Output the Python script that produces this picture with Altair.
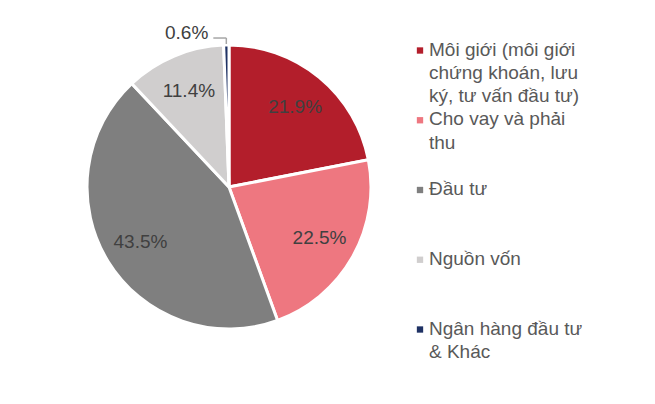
import math
import pandas as pd
import altair as alt

# Revenue structure (share of total, %)
categories = [
    "Môi giới (môi giới chứng khoán, lưu ký, tư vấn đầu tư)",
    "Cho vay và phải thu",
    "Đầu tư",
    "Nguồn vốn",
    "Ngân hàng đầu tư & Khác",
]
legend_text = [
    "Môi giới (môi giới\nchứng khoán, lưu\nký, tư vấn đầu tư)",
    "Cho vay và phải\nthu",
    "Đầu tư",
    "Nguồn vốn",
    "Ngân hàng đầu tư\n& Khác",
]
shares = [21.9, 22.5, 43.5, 11.4, 0.6]
colors = ["#B31E2B", "#EE7780", "#7F7F7F", "#D0CECE", "#1F3264"]

FONT = "Liberation Sans"
CX, CY, R = 221, 179, 142

df = pd.DataFrame({
    "category": categories,
    "legend": legend_text,
    "share": shares,
    "idx": range(len(categories)),
})
df["label"] = [f"{s}%" if s >= 1 else "" for s in shares]

color_scale = alt.Scale(domain=categories, range=colors)

base = alt.Chart(df).encode(
    theta=alt.Theta("share:Q", stack=True),
    order=alt.Order("idx:Q"),
)

# Pie slices with white separators
pie = base.mark_arc(outerRadius=R, stroke="white", strokeWidth=3).encode(
    color=alt.Color("category:N", scale=color_scale, legend=None),
    x=alt.value(CX),
    y=alt.value(CY),
)

# Percentage labels inside the slices
labels = base.mark_text(font=FONT, fontSize=19, color="#404040", radius=104).encode(
    text="label:N",
    x=alt.value(CX),
    y=alt.value(CY),
)

# Leader line for the tiny last slice, derived from its mid-angle
small = df.iloc[-1]
mid = (sum(shares[:-1]) + small["share"] / 2) / sum(shares) * 2 * math.pi
px = CX + R * math.sin(mid)
py = CY - R * math.cos(mid)
ly = py - 7
lx = px - 13

lead_v = alt.Chart(df.tail(1)).mark_rule(color="#A6A6A6", strokeWidth=1.5).encode(
    x=alt.value(px), y=alt.value(py - 1), y2=alt.value(ly)
)
lead_h = alt.Chart(df.tail(1)).mark_rule(color="#A6A6A6", strokeWidth=1.5).encode(
    x=alt.value(lx), x2=alt.value(px), y=alt.value(ly)
)
small_label = alt.Chart(df.tail(1)).mark_text(
    font=FONT, fontSize=19, color="#404040", align="right", baseline="middle"
).encode(
    text=alt.value(f"{small['share']}%"),
    x=alt.value(lx - 5),
    y=alt.value(ly - 5),
)

# Hand-built legend on the right
leg_y = alt.Y("idx:Q", scale=alt.Scale(domain=[0, 4], range=[42.5, 321.5]), axis=None)
leg_sym = alt.Chart(df).mark_square(size=40, opacity=1).encode(
    x=alt.value(412),
    y=leg_y,
    color=alt.Color("category:N", scale=color_scale, legend=None),
)
leg_txt = alt.Chart(df).mark_text(
    font=FONT, fontSize=19, color="#595959", align="left", baseline="top",
    lineBreak="\n", lineHeight=23.3, dy=-10,
).encode(
    x=alt.value(421),
    y=leg_y,
    text="legend:N",
)

chart = alt.layer(pie, labels, lead_v, lead_h, small_label, leg_sym, leg_txt).properties(
    width=639, height=388, padding=0, background="white"
).configure_view(stroke=None)

chart.save("out.html", embed_options={"renderer": "svg", "actions": False})
